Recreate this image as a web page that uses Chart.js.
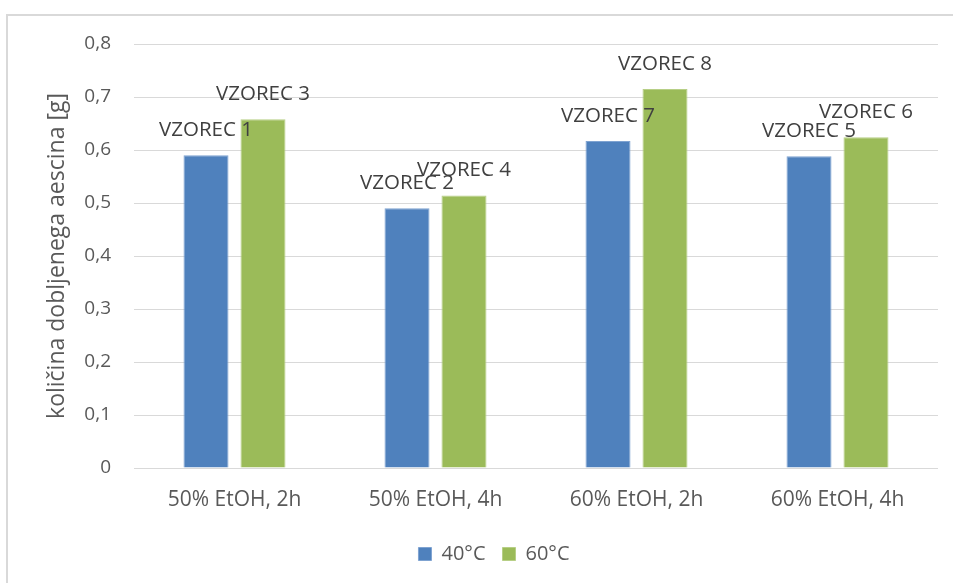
<!DOCTYPE html>
<html>
<head>
<meta charset="utf-8">
<script src="https://cdn.jsdelivr.net/npm/chart.js@4.4.0/dist/chart.umd.min.js"></script>
<style>
  html, body { margin: 0; padding: 0; background: #ffffff; }
  #wrap { width: 953px; height: 583px; }
</style>
</head>
<body>
<div id="wrap"><canvas id="c" width="953" height="583"></canvas></div>
<script>
// Extraction conditions (ethanol share, extraction time)
const categories = ['50% EtOH, 2h', '50% EtOH, 4h', '60% EtOH, 2h', '60% EtOH, 4h'];
// Series: extraction temperature
const seriesNames = ['40°C', '60°C'];
// Mass of aescin obtained [g]
const values40 = [0.590, 0.490, 0.617, 0.588];
const values60 = [0.658, 0.514, 0.715, 0.624];
// Sample names written above each bar
const samples40 = ['VZOREC 1', 'VZOREC 2', 'VZOREC 7', 'VZOREC 5'];
const samples60 = ['VZOREC 3', 'VZOREC 4', 'VZOREC 8', 'VZOREC 6'];
// Value axis ticks
const yTicks = [0, 0.1, 0.2, 0.3, 0.4, 0.5, 0.6, 0.7, 0.8];

const FONT = "'Open Sans', 'Noto Sans', sans-serif";
const GRID = '#d9d9d9';
const TEXT = '#595959';

// Frame line around the chart (top and left edges)
const framePlugin = {
  id: 'frame',
  afterLayout(chart) {
    // nudge the legend a little to the right
    if (chart.legend) {
      chart.legend.left += 3;
      chart.legend.right += 3;
    }
  },
  beforeDraw(chart) {
    const ctx = chart.ctx;
    ctx.save();
    ctx.fillStyle = '#ffffff';
    ctx.fillRect(0, 0, chart.width, chart.height);
    ctx.strokeStyle = GRID;
    ctx.lineWidth = 2;
    ctx.beginPath();
    ctx.moveTo(7, chart.height);
    ctx.lineTo(7, 15);
    ctx.lineTo(chart.width, 15);
    ctx.stroke();
    ctx.restore();
  }
};

// Sample names above the bars
const sampleLabelPlugin = {
  id: 'sampleLabels',
  afterDatasetsDraw(chart) {
    const ctx = chart.ctx;
    const names = [samples40, samples60];
    ctx.save();
    ctx.font = '20.5px ' + FONT;
    ctx.fillStyle = '#404040';
    ctx.textAlign = 'center';
    ctx.textBaseline = 'middle';
    chart.data.datasets.forEach((ds, di) => {
      chart.getDatasetMeta(di).data.forEach((bar, i) => {
        ctx.fillText(names[di][i], bar.x, bar.y - 25);
      });
    });
    ctx.restore();
  }
};

const fmt = v => (v === 0 ? '0' : v.toFixed(1).replace('.', ','));

new Chart(document.getElementById('c'), {
  type: 'bar',
  data: {
    labels: categories,
    datasets: [
      {
        label: seriesNames[0],
        data: values40,
        backgroundColor: '#4f81bd',
        borderColor: '#7fa3d1',
        borderWidth: 1,
        categoryPercentage: 0.567,
        barPercentage: 0.79
      },
      {
        label: seriesNames[1],
        data: values60,
        backgroundColor: '#9bbb59',
        borderColor: '#b7cf86',
        borderWidth: 1,
        categoryPercentage: 0.567,
        barPercentage: 0.79
      }
    ]
  },
  options: {
    responsive: false,
    animation: false,
    layout: { padding: { left: 44, right: 15, top: 44, bottom: 9 } },
    plugins: {
      tooltip: { enabled: false },
      legend: {
        position: 'bottom',
        labels: {
          boxWidth: 13,
          boxHeight: 13,
          padding: 17,
          color: TEXT,
          font: { family: FONT, size: 20 }
        }
      }
    },
    scales: {
      x: {
        grid: { display: false, drawTicks: false },
        border: { display: false },
        ticks: {
          color: TEXT,
          padding: 19,
          font: { family: FONT, size: 21 }
        },
        afterFit(scale) { scale.height = 59; }
      },
      y: {
        min: 0,
        max: 0.8,
        afterBuildTicks(scale) { scale.ticks = yTicks.map(v => ({ value: v })); },
        grid: { color: GRID, lineWidth: 1, drawTicks: false },
        border: { display: false },
        ticks: {
          color: TEXT,
          padding: 23,
          font: { family: FONT, size: 19 },
          callback: v => fmt(v)
        },
        title: {
          display: true,
          text: 'količina dobljenega aescina [g]',
          color: TEXT,
          font: { family: FONT, size: 23, lineHeight: 1.2 },
          padding: { top: 0, bottom: 0 }
        },
        afterFit(scale) { scale.width = 90; }
      }
    }
  },
  plugins: [framePlugin, sampleLabelPlugin]
});
</script>
</body>
</html>
